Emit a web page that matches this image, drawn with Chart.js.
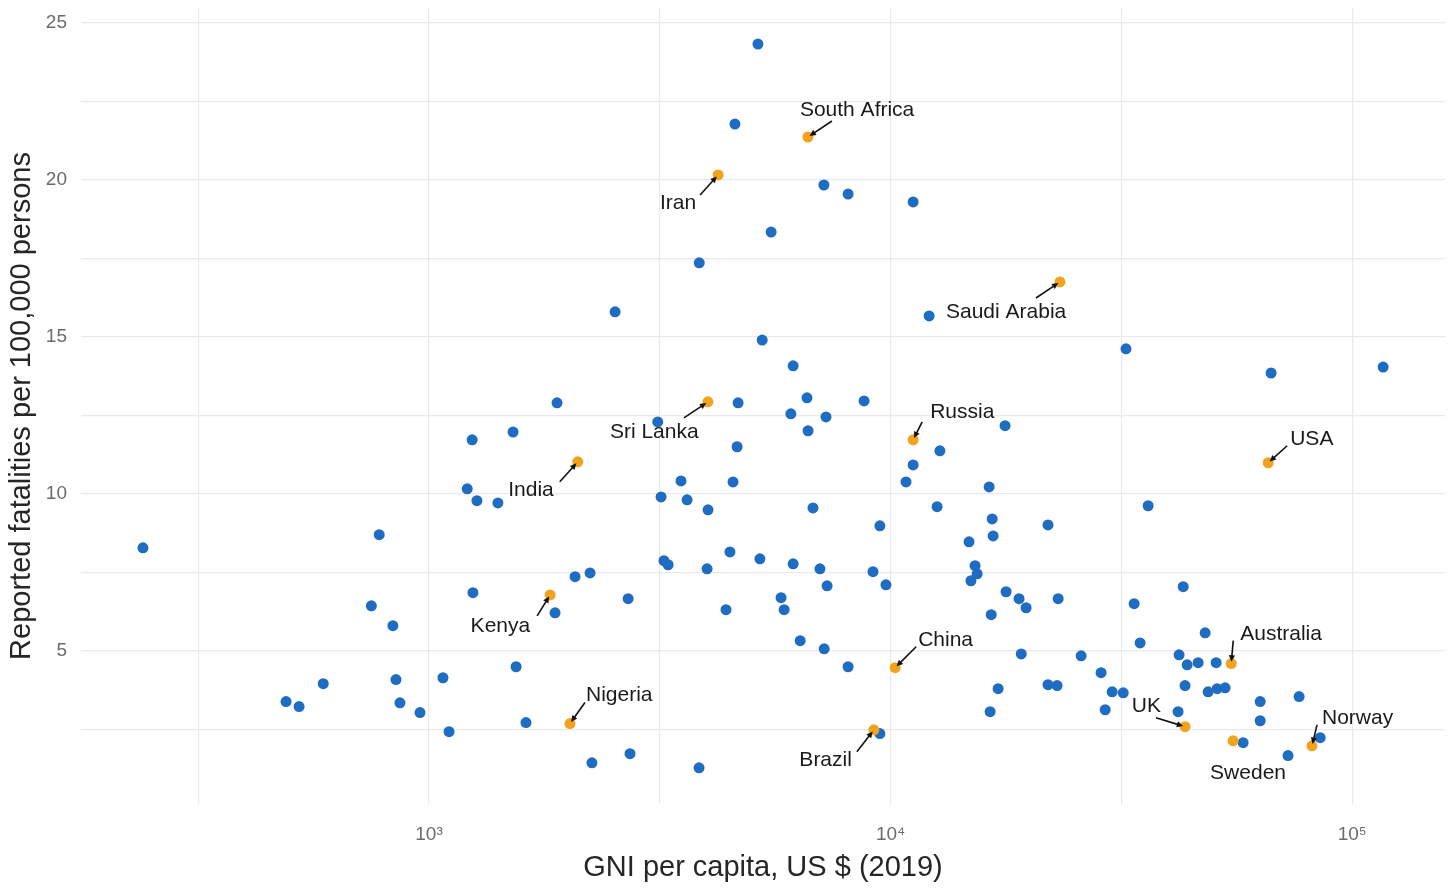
<!DOCTYPE html>
<html>
<head>
<meta charset="utf-8">
<title>Road fatalities vs GNI per capita</title>
<script src="https://cdn.jsdelivr.net/npm/chart.js@4.4.1/dist/chart.umd.min.js"></script>
<style>
  html, body { margin: 0; padding: 0; background: #ffffff; }
  #wrap { width: 1453px; height: 888px; }
</style>
</head>
<body>
<div id="wrap"><canvas id="chart" width="1453" height="888"></canvas></div>
<script>
// GNI per capita (US $, 2019) and reported road fatalities per 100,000 persons
const otherGni = [
  240, 780, 1240, 1210, 1270, 1410, 750, 835, 1245, 590,
  490, 523, 848, 865, 956, 1072, 1105, 5160, 4600, 7170,
  8090, 11190, 5510, 3850, 2530, 5270, 6150, 12120, 1894, 1521,
  3130, 4673, 6590, 6080, 7245, 6625, 8760, 12790, 11190, 10800,
  4650, 3515, 4557, 3182, 3623, 4022, 6790, 12610, 9480, 14790,
  3228, 3296, 4487, 5210, 6150, 7030, 9160, 4003, 2233, 2072,
  7285, 9770, 15240, 15400, 14930, 1875, 2700, 4400, 5790, 5880,
  6370, 7180, 8090, 1544, 1622, 2254, 2726, 3846, 9480, 32360,
  66740, 116700, 17700, 16350, 36140, 16600, 16680, 21930, 17790, 18980,
  19660, 16520, 23070, 33700, 43050, 19190, 25870, 34720, 48030, 28580,
  17100, 21930, 22950, 16430, 29170, 30200, 31920, 42170, 43900, 46380,
  50740, 43440, 48750, 51000, 53060, 41960, 63200, 63200, 76740, 58050,
  72620, 85260
];
const otherRate = [
  8.28, 8.70, 11.72, 10.16, 9.78, 9.71, 6.43, 5.80, 6.85, 3.95,
  3.38, 3.22, 4.08, 3.34, 3.03, 4.14, 2.42, 24.33, 21.78, 19.84,
  19.55, 19.30, 18.34, 17.36, 15.80, 14.90, 14.08, 15.67, 12.90, 11.97,
  12.29, 12.90, 13.06, 12.55, 12.45, 12.01, 12.96, 11.37, 10.92, 10.38,
  11.50, 10.41, 10.38, 9.90, 9.81, 9.49, 9.55, 9.59, 8.98, 8.47,
  7.87, 7.74, 8.15, 7.93, 7.77, 7.61, 7.52, 7.61, 7.48, 7.36,
  7.07, 7.10, 7.71, 7.45, 7.23, 6.21, 6.66, 6.31, 6.69, 6.31,
  5.32, 5.06, 4.49, 4.49, 2.71, 1.43, 1.72, 1.27, 2.36, 14.62,
  13.85, 14.04, 12.17, 10.22, 9.62, 9.20, 8.66, 9.01, 6.88, 6.66,
  6.37, 6.15, 6.66, 6.50, 7.04, 4.90, 4.84, 5.25, 5.57, 4.30,
  3.79, 3.92, 3.89, 3.06, 3.12, 3.69, 3.66, 4.87, 4.55, 4.62,
  4.62, 3.89, 3.69, 3.79, 3.82, 3.06, 3.38, 2.77, 3.54, 2.07,
  1.66, 2.23
];

// Named countries
const namedCountries = [
  'South Africa', 'Iran', 'Saudi Arabia', 'Sri Lanka', 'Russia',
  'India', 'USA', 'Kenya', 'China', 'Australia',
  'Nigeria', 'Brazil', 'UK', 'Sweden', 'Norway'
];
const namedGni = [
  6620, 4230, 23280, 4020, 11190,
  2100, 65780, 1830, 10230, 54700,
  2020, 9200, 43440, 55200, 81850
];
const namedRate = [
  21.37, 20.16, 16.75, 12.93, 11.72,
  11.02, 10.99, 6.78, 4.46, 4.59,
  2.68, 2.48, 2.58, 2.13, 1.97
];

// Axis ticks and grid
const xTickValues = [1000, 10000, 100000];
const xTickLabels = ['10\u00B3', '10\u2074', '10\u2075'];
const xMinorGrid = [316.228, 3162.28, 31622.8];
const yTickValues = [5, 10, 15, 20, 25];
const yMinorGrid = [2.5, 7.5, 12.5, 17.5, 22.5];

// Label placement around each named point (pixels): text offset, alignment, arrow tail
const labelPlacement = [
  { dx: -8,   dy: -27, align: 'left',   ax: 24,  ay: -16 },
  { dx: -22,  dy: 28,  align: 'right',  ax: -18, ay: 20 },
  { dx: -114, dy: 30,  align: 'left',   ax: -24, ay: 16 },
  { dx: -98,  dy: 30,  align: 'left',   ax: -24, ay: 16 },
  { dx: 17,   dy: -28, align: 'left',   ax: 9,   ay: -18 },
  { dx: -24,  dy: 28,  align: 'right',  ax: -18, ay: 20 },
  { dx: 22,   dy: -24, align: 'left',   ax: 19,  ay: -17 },
  { dx: -20,  dy: 31,  align: 'right',  ax: -13, ay: 21 },
  { dx: 23,   dy: -27, align: 'left',   ax: 21,  ay: -21 },
  { dx: 9,    dy: -29, align: 'left',   ax: 2,   ay: -23 },
  { dx: 16,   dy: -28, align: 'left',   ax: 15,  ay: -21 },
  { dx: -22,  dy: 30,  align: 'right',  ax: -17, ay: 22 },
  { dx: -24,  dy: -20, align: 'right',  ax: -29, ay: -9 },
  { dx: 15,   dy: 32,  align: 'center', ax: null, ay: null },
  { dx: 10,   dy: -28, align: 'left',   ax: 5,   ay: -21 }
];

const BLUE = '#1f6dc2';
const ORANGE = '#f2a31e';

function drawArrow(ctx, x0, y0, x1, y1) {
  const ang = Math.atan2(y1 - y0, x1 - x0);
  const ex = x1 - Math.cos(ang) * 2;
  const ey = y1 - Math.sin(ang) * 2;
  const head = 7;
  ctx.beginPath();
  ctx.moveTo(x0, y0);
  ctx.lineTo(ex - Math.cos(ang) * head * 0.6, ey - Math.sin(ang) * head * 0.6);
  ctx.strokeStyle = '#111111';
  ctx.lineWidth = 1.6;
  ctx.stroke();
  ctx.beginPath();
  ctx.moveTo(ex, ey);
  ctx.lineTo(ex - head * Math.cos(ang - 0.45), ey - head * Math.sin(ang - 0.45));
  ctx.lineTo(ex - head * Math.cos(ang + 0.45), ey - head * Math.sin(ang + 0.45));
  ctx.closePath();
  ctx.fillStyle = '#111111';
  ctx.fill();
}

const countryLabels = {
  id: 'countryLabels',
  afterDatasetsDraw(chart) {
    const { ctx, scales } = chart;
    ctx.save();
    ctx.font = '21px "Liberation Sans", Arial, sans-serif';
    ctx.textBaseline = 'middle';
    namedCountries.forEach((name, i) => {
      const px = scales.x.getPixelForValue(namedGni[i]);
      const py = scales.y.getPixelForValue(namedRate[i]);
      const p = labelPlacement[i];
      if (p.ax !== null) drawArrow(ctx, px + p.ax, py + p.ay, px, py);
      ctx.fillStyle = '#1a1a1a';
      ctx.textAlign = p.align;
      ctx.fillText(name, px + p.dx, py + p.dy);
    });
    ctx.restore();
  }
};

const toPoints = (xs, ys) => xs.map((v, i) => ({ x: v, y: ys[i] }));
const near = (a, b) => Math.abs(a - b) / b < 1e-6;
const GRID = '#e9e9e9';

new Chart(document.getElementById('chart'), {
  type: 'scatter',
  data: {
    datasets: [
      {
        label: 'Named countries',
        data: toPoints(namedGni, namedRate),
        backgroundColor: ORANGE,
        borderWidth: 0,
        pointRadius: 5.5,
        pointHoverRadius: 5.5
      },
      {
        label: 'Other countries',
        data: toPoints(otherGni, otherRate),
        backgroundColor: BLUE,
        borderWidth: 0,
        pointRadius: 5.5,
        pointHoverRadius: 5.5
      }
    ]
  },
  options: {
    responsive: false,
    animation: false,
    devicePixelRatio: 1,
    layout: { padding: { top: 8, right: 8, left: 0, bottom: 0 } },
    plugins: {
      legend: { display: false },
      tooltip: { enabled: false }
    },
    scales: {
      x: {
        type: 'logarithmic',
        bounds: 'data',
        min: 176.2,
        max: 158900,
        border: { display: false },
        grid: { color: GRID, lineWidth: 1.2, drawTicks: false },
        afterBuildTicks(scale) {
          scale.ticks = xMinorGrid.concat(xTickValues).sort((a, b) => a - b).map(v => ({ value: v }));
        },
        afterFit(scale) {
          scale.height = 84;
          scale.paddingLeft = 0;
          scale.paddingRight = 0;
        },
        ticks: {
          autoSkip: false,
          maxRotation: 0,
          padding: 19,
          color: '#6b6b6b',
          font: { family: '"Liberation Sans", Arial, sans-serif', size: 19 },
          callback(value) {
            const k = xTickValues.findIndex(t => near(value, t));
            return k >= 0 ? xTickLabels[k] : '';
          }
        },
        title: {
          display: true,
          text: 'GNI per capita, US $ (2019)',
          color: '#262626',
          font: { family: '"Liberation Sans", Arial, sans-serif', size: 29, lineHeight: 1.2 },
          padding: { top: 0, bottom: 3 }
        }
      },
      y: {
        type: 'linear',
        bounds: 'data',
        min: 0.117,
        max: 25.48,
        border: { display: false },
        grid: { color: GRID, lineWidth: 1.2, drawTicks: false },
        afterBuildTicks(scale) {
          scale.ticks = yMinorGrid.concat(yTickValues).sort((a, b) => a - b).map(v => ({ value: v }));
        },
        afterFit(scale) {
          scale.width = 81;
          scale.paddingTop = 0;
          scale.paddingBottom = 0;
        },
        ticks: {
          autoSkip: false,
          padding: 14,
          color: '#6b6b6b',
          font: { family: '"Liberation Sans", Arial, sans-serif', size: 19 },
          callback(value) {
            return yTickValues.some(t => near(value, t)) ? String(value) : '';
          }
        },
        title: {
          display: true,
          text: 'Reported fatalities per 100,000 persons',
          color: '#262626',
          font: { family: '"Liberation Sans", Arial, sans-serif', size: 29, lineHeight: 1.2 },
          padding: { top: 5, bottom: 0 }
        }
      }
    }
  },
  plugins: [countryLabels]
});
</script>
</body>
</html>
